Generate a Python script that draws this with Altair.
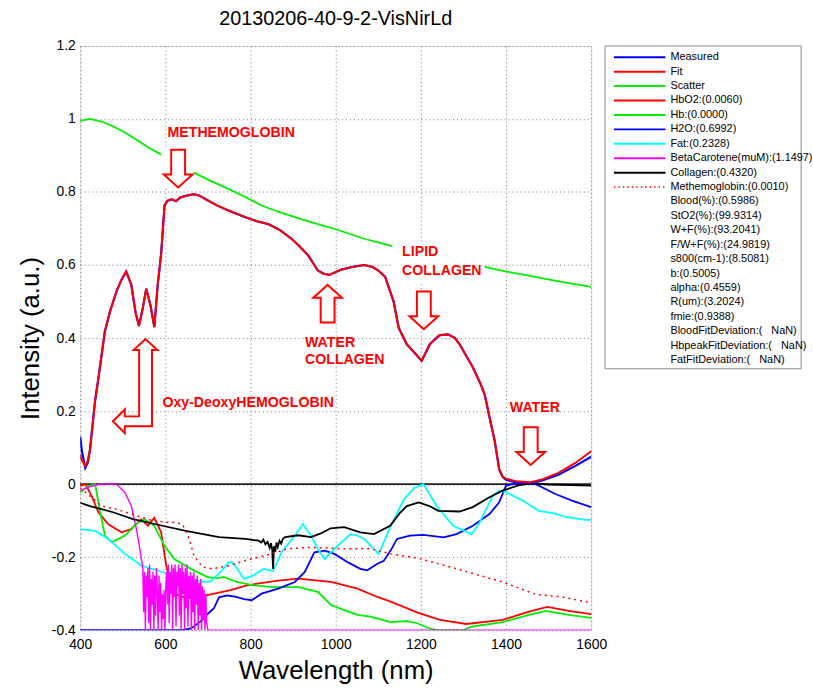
import altair as alt
import pandas as pd

TITLE = "20130206-40-9-2-VisNirLd"
X_TICKS = [400, 600, 800, 1000, 1200, 1400, 1600]
Y_TICKS = [-0.4, -0.2, 0, 0.2, 0.4, 0.6, 0.8, 1.0, 1.2]

# ---- Measured / Fit -------------------------------------------------------
wl_main = [400, 404, 412, 418, 423, 435, 443, 458, 470, 485, 497, 508, 520, 530,
           538, 547, 555, 565, 574, 582, 590, 598, 605, 615, 625, 635, 650, 667,
           680, 695, 720, 749, 788, 815, 842, 870, 896, 912, 935, 958, 972, 985,
           1012, 1040, 1067, 1086, 1100, 1116, 1136, 1148, 1167, 1185, 1202, 1221,
           1244, 1264, 1280, 1291, 1322, 1340, 1350, 1360, 1373, 1384, 1392, 1400,
           1423, 1458, 1485, 1523, 1563, 1600]
measured = [0.13, 0.09, 0.045, 0.06, 0.094, 0.229, 0.292, 0.419, 0.473, 0.527, 0.56,
            0.582, 0.546, 0.47, 0.433, 0.482, 0.535, 0.49, 0.43, 0.546, 0.63, 0.763,
            0.776, 0.78, 0.775, 0.785, 0.79, 0.794, 0.79, 0.78, 0.764, 0.749, 0.731,
            0.72, 0.712, 0.695, 0.672, 0.655, 0.627, 0.585, 0.576, 0.573, 0.587,
            0.595, 0.60, 0.595, 0.585, 0.568, 0.50, 0.428, 0.383, 0.36, 0.338, 0.383,
            0.408, 0.41, 0.40, 0.383, 0.32, 0.275, 0.245, 0.19, 0.121, 0.04, 0.02,
            0.012, 0.005, 0.003, 0.01, 0.026, 0.05, 0.075]
fit = [0.08, 0.065, 0.05, 0.065, 0.094, 0.229, 0.292, 0.419, 0.473, 0.527, 0.56,
       0.582, 0.546, 0.47, 0.433, 0.482, 0.535, 0.49, 0.43, 0.546, 0.63, 0.763,
       0.776, 0.78, 0.775, 0.785, 0.79, 0.794, 0.79, 0.78, 0.764, 0.749, 0.731,
       0.72, 0.712, 0.695, 0.672, 0.655, 0.627, 0.585, 0.576, 0.573, 0.587,
       0.595, 0.60, 0.595, 0.585, 0.568, 0.50, 0.428, 0.383, 0.36, 0.338, 0.383,
       0.408, 0.41, 0.40, 0.383, 0.32, 0.275, 0.245, 0.19, 0.121, 0.04, 0.02,
       0.015, 0.008, 0.005, 0.013, 0.031, 0.058, 0.09]

# ---- Scatter --------------------------------------------------------------
wl_scatter = [400, 423, 450, 477, 505, 532, 560, 590, 630, 667, 700, 749, 790, 826,
              865, 904, 950, 1000, 1067, 1133, 1200, 1270, 1350, 1392, 1450, 1520, 1600]
scatter = [0.995, 1.0, 0.993, 0.98, 0.963, 0.943, 0.922, 0.903, 0.877, 0.853, 0.834,
           0.808, 0.785, 0.763, 0.746, 0.731, 0.715, 0.698, 0.672, 0.652, 0.635,
           0.615, 0.595, 0.584, 0.572, 0.556, 0.54]

# ---- HbO2 -----------------------------------------------------------------
wl_hbo2 = [400, 412, 427, 443, 466, 497, 520, 543, 559, 574, 590, 602, 613, 629, 652,
           698, 753, 791, 865, 912, 989, 1051, 1098, 1129, 1191, 1245, 1307, 1392,
           1454, 1497, 1547, 1600]
hbo2 = [-0.005, 0.0, -0.033, -0.078, -0.11, -0.132, -0.123, -0.096, -0.114, -0.092,
        -0.132, -0.223, -0.277, -0.304, -0.313, -0.304, -0.29, -0.277, -0.264, -0.259,
        -0.268, -0.286, -0.309, -0.322, -0.351, -0.372, -0.383, -0.372, -0.349,
        -0.336, -0.347, -0.356]

# ---- Hb -------------------------------------------------------------------
wl_hb = [400, 419, 435, 447, 458, 474, 505, 536, 551, 574, 598, 621, 660, 698, 720,
         737, 768, 807, 853, 912, 958, 989, 1020, 1051, 1082, 1129, 1167, 1191, 1222,
         1240, 1300, 1320, 1392, 1454, 1493, 1547, 1600]
hb = [-0.023, -0.005, 0.0, -0.078, -0.141, -0.159, -0.141, -0.105, -0.096, -0.114,
      -0.169, -0.205, -0.232, -0.254, -0.258, -0.254, -0.268, -0.277, -0.282, -0.282,
      -0.295, -0.331, -0.345, -0.358, -0.363, -0.378, -0.375, -0.381, -0.396, -0.4,
      -0.4, -0.39, -0.378, -0.358, -0.347, -0.358, -0.366]

# ---- H2O ------------------------------------------------------------------
wl_h2o = [400, 640, 660, 683, 700, 714, 726, 745, 764, 785, 803, 826, 865, 904, 927,
          950, 974, 997, 1030, 1058, 1074, 1098, 1113, 1130, 1144, 1174, 1206, 1253,
          1284, 1322, 1361, 1384, 1400, 1439, 1470, 1516, 1555, 1600]
h2o = [-0.4, -0.4, -0.395, -0.376, -0.355, -0.34, -0.31, -0.305, -0.308, -0.315,
       -0.318, -0.3, -0.286, -0.268, -0.241, -0.187, -0.182, -0.191, -0.215, -0.232,
       -0.236, -0.218, -0.21, -0.18, -0.15, -0.141, -0.139, -0.146, -0.137, -0.114,
       -0.082, -0.05, -0.004, 0.005, 0.0, -0.027, -0.045, -0.063]

# ---- Fat ------------------------------------------------------------------
wl_fat = [400, 435, 466, 505, 543, 590, 636, 683, 706, 730, 748, 756, 768, 784, 807,
          830, 853, 873, 904, 923, 942, 958, 974, 997, 1035, 1050, 1067, 1101, 1128,
          1160, 1185, 1206, 1237, 1276, 1319, 1338, 1369, 1384, 1400, 1439, 1477,
          1516, 1540, 1586, 1600]
fat = [-0.123, -0.128, -0.15, -0.191, -0.223, -0.24, -0.254, -0.267, -0.267, -0.24,
       -0.215, -0.213, -0.23, -0.259, -0.25, -0.232, -0.238, -0.186, -0.141, -0.11,
       -0.141, -0.177, -0.205, -0.177, -0.137, -0.14, -0.15, -0.191, -0.118, -0.042,
       -0.01, 0.0, -0.06, -0.114, -0.137, -0.105, -0.032, -0.018, -0.022, -0.045,
       -0.073, -0.081, -0.09, -0.098, -0.098]

# ---- BetaCarotene ---------------------------------------------------------
wl_beta = [400, 427, 450, 485, 505, 520, 532, 540, 547, 549, 551, 553, 555, 557, 559,
           561, 563, 565, 567, 569, 571, 573, 575, 577, 579, 581, 583, 585, 587, 589,
           591, 593, 595, 597, 599, 601, 603, 605, 607, 609, 611, 613, 615, 617, 619,
           621, 623, 625, 627, 629, 631, 633, 635, 637, 639, 641, 643, 645, 647, 649,
           651, 653, 655, 657, 659, 661, 663, 665, 667, 669, 671, 673, 675, 677, 679,
           681, 683, 685, 687, 689, 691, 693, 695, 697, 700, 720, 1600]
beta = [-0.018, -0.005, 0.0, 0.0, -0.023, -0.06, -0.123, -0.177, -0.23, -0.35, -0.24,
        -0.40, -0.25, -0.31, -0.23, -0.38, -0.22, -0.40, -0.26, -0.33, -0.24, -0.40,
        -0.25, -0.36, -0.23, -0.29, -0.40, -0.25, -0.35, -0.27, -0.40, -0.30, -0.37,
        -0.29, -0.40, -0.28, -0.24, -0.33, -0.22, -0.38, -0.24, -0.30, -0.22, -0.40,
        -0.23, -0.31, -0.22, -0.39, -0.24, -0.28, -0.22, -0.36, -0.23, -0.40, -0.22,
        -0.30, -0.24, -0.40, -0.23, -0.34, -0.22, -0.39, -0.25, -0.31, -0.24, -0.40,
        -0.25, -0.35, -0.24, -0.40, -0.26, -0.33, -0.25, -0.40, -0.27, -0.36, -0.26,
        -0.40, -0.28, -0.37, -0.29, -0.40, -0.30, -0.38, -0.40, -0.40, -0.40]

# ---- Collagen -------------------------------------------------------------
wl_coll = [400, 423, 477, 524, 593, 648, 726, 788, 819, 825, 830, 835, 840, 845, 848,
           851, 853, 855, 858, 861, 864, 868, 872, 876, 881, 912, 942, 965, 988, 1020,
           1058, 1090, 1128, 1150, 1167, 1195, 1220, 1241, 1291, 1322, 1361, 1392,
           1431, 1462, 1500, 1600]
collagen = [-0.051, -0.06, -0.077, -0.096, -0.114, -0.128, -0.145, -0.15, -0.155, -0.16,
            -0.152, -0.165, -0.158, -0.175, -0.162, -0.18, -0.232, -0.17, -0.185, -0.16,
            -0.172, -0.155, -0.163, -0.15, -0.145, -0.14, -0.145, -0.135, -0.121,
            -0.118, -0.132, -0.137, -0.114, -0.08, -0.06, -0.05, -0.06, -0.073, -0.075,
            -0.063, -0.036, -0.018, -0.003, 0.002, -0.001, -0.004]

# ---- Methemoglobin --------------------------------------------------------
wl_meth = [400, 420, 450, 485, 524, 563, 600, 625, 640, 656, 667, 687, 710, 749, 788,
           834, 888, 943, 1020, 1082, 1129, 1194, 1284, 1392, 1470, 1532, 1600]
meth = [-0.01, -0.03, -0.06, -0.069, -0.083, -0.098, -0.104, -0.105, -0.11, -0.15,
        -0.196, -0.227, -0.232, -0.223, -0.209, -0.196, -0.177, -0.173, -0.177, -0.177,
        -0.191, -0.203, -0.232, -0.268, -0.302, -0.309, -0.325]

# ---- Legend ---------------------------------------------------------------
NB = "\u00a0"
legend_labels = ["Measured", "Fit", "Scatter", "HbO2:(0.0060)", "Hb:(0.0000)",
                 "H2O:(0.6992)", "Fat:(0.2328)", "BetaCarotene(muM):(1.1497)",
                 "Collagen:(0.4320)", "Methemoglobin:(0.0010)", "Blood(%):(0.5986)",
                 "StO2(%):(99.9314)", "W+F(%):(93.2041)", "F/W+F(%):(24.9819)",
                 "s800(cm-1):(8.5081)", "b:(0.5005)", "alpha:(0.4559)",
                 "R(um):(3.2024)", "fmie:(0.9388)",
                 "BloodFitDeviation:(" + NB * 3 + "NaN)",
                 "HbpeakFitDeviation:(" + NB * 3 + "NaN)",
                 "FatFitDeviation:(" + NB * 3 + "NaN)"]
legend_colors = ["#0000ff", "#ff0000", "#00ee00", "#ff0000", "#00ee00", "#0000ff",
                 "#00ffff", "#ff00ff", "#000000", "#ff0000"]
LEGEND_FIRST_V = 1.169
LEGEND_STEP_V = 0.0395

# ---- Annotations ----------------------------------------------------------
ann_text = ["METHEMOGLOBIN", "Oxy-DeoxyHEMOGLOBIN", "WATER", "COLLAGEN", "LIPID",
            "COLLAGEN", "WATER"]
ann_wl = [605, 593, 928, 928, 1156, 1156, 1409]
ann_v = [0.961, 0.221, 0.386, 0.34, 0.636, 0.584, 0.207]

down_wl = [630, 1207, 1458]
down_v = [0.864, 0.476, 0.104]
up_wl = [981]
up_v = [0.494]
oxy_wl = [553.5]
oxy_v = [0.172]

# white text/arrow backgrounds (opaque annotation boxes)
box_wl = [590, 1133]
box_wl2 = [667, 1350]
box_v = [0.81, 0.555]
box_v2 = [0.92, 0.665]

DOWN_PATH = "M-7,-19L7,-19L7,6L14.5,6L0,19L-14.5,6L-7,6Z"
UP_PATH = "M-7,19L7,19L7,-6L14.5,-6L0,-19L-14.5,-6L-7,-6Z"
OXY_PATH = ("M0,-83L12,-72L6.5,-72L6.5,5L-21,5L-21,12L-33,0L-21,-12L-21,-5"
            "L-6.5,-5L-6.5,-72L-12,-72Z")

FONT = "Liberation Sans"

W, H = 516, 590

X = alt.X("wavelength:Q",
          scale=alt.Scale(domain=[400, 1600], nice=False, zero=False),
          axis=alt.Axis(values=X_TICKS, format="d", title="Wavelength (nm)",
                        labelFontSize=14, titleFontSize=26, titleFontWeight="normal",
                        grid=True, gridDash=[1, 3], gridColor="#777", ticks=False,
                        domain=False, labelPadding=8, titlePadding=6,
                        labelFlush=False, labelOverlap=False,
                        labelColor="black", titleColor="black", labelFont=FONT,
                        titleFont=FONT))
Y = alt.Y("value:Q",
          scale=alt.Scale(domain=[-0.4, 1.2], nice=False, zero=False),
          axis=alt.Axis(values=Y_TICKS, title="Intensity (a.u.)",
                        labelExpr="datum.value < 0 ? '-' + format(-datum.value, '~g') : format(datum.value, '~g')",
                        labelFontSize=14, titleFontSize=26, titleFontWeight="normal",
                        grid=True, gridDash=[1, 3], gridColor="#777", ticks=False,
                        domain=False, labelPadding=5, titlePadding=8,
                        labelFlush=False, labelOverlap=False,
                        labelColor="black", titleColor="black", labelFont=FONT,
                        titleFont=FONT))


def series_df(wl, vals):
    return pd.DataFrame({"wavelength": wl, "value": vals})


def line(wl, vals, color, width=1.8, dash=None):
    kw = dict(color=color, strokeWidth=width, clip=True)
    if dash is not None:
        kw["strokeDash"] = dash
    return alt.Chart(series_df(wl, vals)).mark_line(**kw).encode(x=X, y=Y)


layers = []
# zero line
layers.append(alt.Chart(pd.DataFrame({"value": [0.0]})).mark_rule(
    color="#222", strokeWidth=2).encode(y=Y))
# components
layers.append(line(wl_hbo2, hbo2, "#ff0000"))
layers.append(line(wl_hb, hb, "#00ee00"))
layers.append(line(wl_h2o, h2o, "#0000ff"))
layers.append(line(wl_fat, fat, "#00ffff"))
layers.append(line(wl_beta, beta, "#ff00ff", width=1.4))
layers.append(line(wl_coll, collagen, "#000000"))
layers.append(line(wl_meth, meth, "#ff0000", width=1.5, dash=[2, 4]))
# main
layers.append(line(wl_scatter, scatter, "#00ee00"))
layers.append(line(wl_main, measured, "#0000ff", width=2.2))
layers.append(line(wl_main, fit, "#ff0000", width=2))

# annotation backgrounds
box_df = pd.DataFrame({"wavelength": box_wl, "wavelength2": box_wl2,
                       "value": box_v, "value2": box_v2})
layers.append(alt.Chart(box_df).mark_rect(fill="white", stroke=None).encode(
    x=X, x2="wavelength2:Q", y=Y, y2="value2:Q"))

# arrows
for wl, vv, path in [(down_wl, down_v, DOWN_PATH), (up_wl, up_v, UP_PATH),
                     (oxy_wl, oxy_v, OXY_PATH)]:
    layers.append(alt.Chart(series_df(wl, vv)).mark_point(
        shape=path, size=4, filled=True, fill="white", stroke="#ff0000",
        strokeWidth=2, opacity=1, clip=False).encode(x=X, y=Y))

# annotation text
ann_df = pd.DataFrame({"wavelength": ann_wl, "value": ann_v, "label": ann_text})
layers.append(alt.Chart(ann_df).mark_text(
    align="left", baseline="middle", font=FONT, fontSize=14.3,
    fontWeight="bold", color="#ff0000", clip=False).encode(x=X, y=Y, text="label:N"))

# legend box
layers.append(alt.Chart(pd.DataFrame({"k": [0]})).mark_rect(
    fill="white", stroke="#888", strokeWidth=1, clip=False).encode(
    x=alt.value(530), x2=alt.value(728), y=alt.value(0), y2=alt.value(326)))

leg_v = [LEGEND_FIRST_V - i * LEGEND_STEP_V for i in range(len(legend_labels))]
for i, c in enumerate(legend_colors):
    kw = dict(color=c, strokeWidth=2, clip=False)
    if i == 9:
        kw["strokeDash"] = [1.5, 3]
        kw["strokeWidth"] = 1.5
    layers.append(alt.Chart(pd.DataFrame({"value": [leg_v[i]]})).mark_rule(**kw).encode(
        x=alt.value(539), x2=alt.value(591), y=Y))

leg_df = pd.DataFrame({"value": leg_v, "label": legend_labels})
layers.append(alt.Chart(leg_df).mark_text(
    align="left", baseline="middle", font=FONT, fontSize=11, color="black",
    clip=False).encode(x=alt.value(596), y=Y, text="label:N"))

chart = alt.layer(*layers).properties(
    width=W, height=H,
    title=alt.TitleParams(TITLE, fontSize=20, fontWeight="normal", font=FONT,
                          color="black", anchor="middle", frame="group", offset=10),
    padding={"left": 17, "top": 6, "right": 0, "bottom": 2},
).configure_view(stroke="#444", strokeWidth=1.2).configure(background="white")

chart.save("out.html", embed_options={"renderer": "svg", "actions": False})
